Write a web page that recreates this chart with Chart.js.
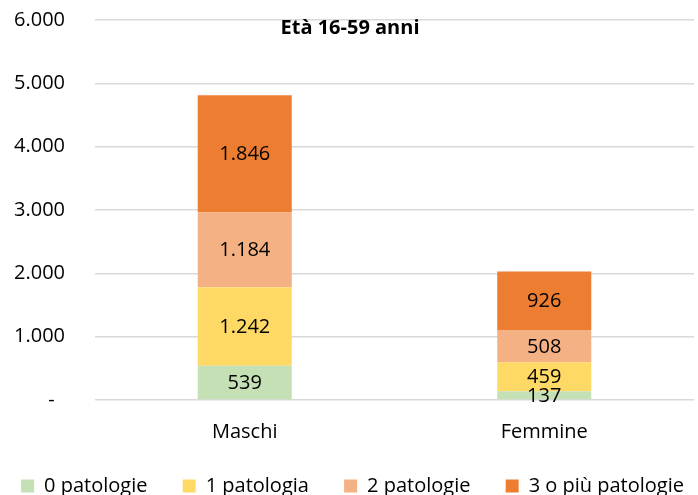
<!DOCTYPE html>
<html>
<head>
<meta charset="utf-8">
<script src="https://cdn.jsdelivr.net/npm/chart.js@4/dist/chart.umd.min.js"></script>
<style>
  html, body { margin: 0; padding: 0; background: #fff; }
  #wrap { width: 698px; height: 495px; }
</style>
</head>
<body>
<div id="wrap"><canvas id="chart"></canvas></div>
<script>
const categories = ['Maschi', 'Femmine'];
const seriesNames = ['0 patologie', '1 patologia', '2 patologie', '3 o più patologie'];
const zeroPat = [539, 137];
const unaPat = [1242, 459];
const duePat = [1184, 508];
const trePiuPat = [1846, 926];
const yTicks = [0, 1000, 2000, 3000, 4000, 5000, 6000];
const chartTitle = 'Età 16-59 anni';

const colors = ['#C5E0B4', '#FFD966', '#F4B183', '#ED7D31'];
const FONT = "'Open Sans', sans-serif";

const fmt = (v) => {
  if (v === 0) return '-  ';
  return String(v).replace(/\B(?=(\d{3})+(?!\d))/g, '.');
};

// draws the value in the middle of each bar segment
const segmentLabels = {
  id: 'segmentLabels',
  afterDatasetsDraw(chart) {
    const ctx = chart.ctx;
    ctx.save();
    ctx.font = '20px ' + FONT;
    ctx.fillStyle = '#000';
    ctx.textAlign = 'center';
    ctx.textBaseline = 'middle';
    chart.data.datasets.forEach((ds, i) => {
      chart.getDatasetMeta(i).data.forEach((bar, j) => {
        const mid = (bar.y + bar.base) / 2;
        ctx.fillText(fmt(ds.data[j]), bar.x, mid + 1);
      });
    });
    ctx.restore();
  },
};

// title sits inside the plot area
const innerTitle = {
  id: 'innerTitle',
  afterDraw(chart) {
    const ctx = chart.ctx;
    ctx.save();
    ctx.font = 'bold 20px ' + FONT;
    ctx.fillStyle = '#000';
    ctx.textAlign = 'center';
    ctx.textBaseline = 'middle';
    ctx.fillText(chartTitle, 350, 28);
    ctx.restore();
  },
};

const values = [zeroPat, unaPat, duePat, trePiuPat];
const datasets = seriesNames.map((name, i) => ({
  label: name,
  data: values[i],
  backgroundColor: colors[i],
  borderWidth: 0,
  barPercentage: 1,
  categoryPercentage: 0.314,
}));

// extra room after each legend entry except the last one
const legendLabels = (chart) => {
  const items = Chart.defaults.plugins.legend.labels.generateLabels(chart);
  items.forEach((item, i) => {
    if (i < items.length - 1) item.text += '\u2003 ';
  });
  return items;
};

new Chart(document.getElementById('chart'), {
  type: 'bar',
  data: { labels: categories, datasets },
  plugins: [segmentLabels, innerTitle],
  options: {
    responsive: true,
    maintainAspectRatio: false,
    animation: false,
    layout: { padding: { left: 0, right: 4, top: 0, bottom: -11 } },
    scales: {
      x: {
        stacked: true,
        grid: { display: false },
        border: { display: false },
        ticks: { color: '#000', font: { family: FONT, size: 20 }, padding: 12 },
        afterFit: (axis) => {
          axis.height += 10;
        },
      },
      y: {
        stacked: true,
        min: 0,
        max: 6000,
        afterBuildTicks: (axis) => {
          axis.ticks = yTicks.map((v) => ({ value: v }));
        },
        grid: { color: '#D9D9D9', lineWidth: 1.5, drawTicks: false },
        border: { display: false },
        ticks: {
          color: '#000',
          font: { family: FONT, size: 20 },
          padding: 30,
          callback: (v) => fmt(v),
        },
        afterFit: (axis) => {
          axis.width = 95;
          axis.paddingTop = 20;
          axis.paddingBottom = 0;
        },
      },
    },
    plugins: {
      legend: {
        position: 'bottom',
        align: 'end',
        onClick: null,
        labels: {
          color: '#000',
          font: { family: FONT, size: 20 },
          boxWidth: 13,
          boxHeight: 13,
          padding: 10,
          generateLabels: legendLabels,
        },
      },
      tooltip: { enabled: false },
    },
  },
});
</script>
</body>
</html>
